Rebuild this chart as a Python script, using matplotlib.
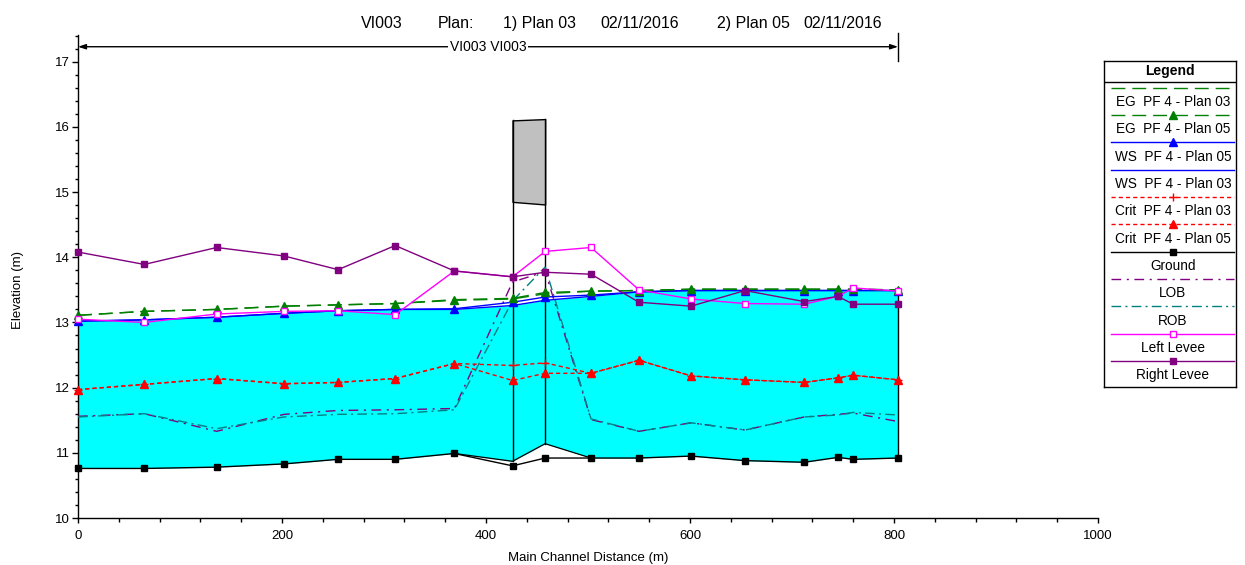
import numpy as np
import matplotlib
matplotlib.use("Agg")
import matplotlib.pyplot as plt
from matplotlib.ticker import MultipleLocator

plt.rcParams['font.family'] = ['Liberation Sans', 'DejaVu Sans']

# ---- profile data (main channel distance in m, elevations in m) ----
stations = [0, 65, 136, 202, 255, 311, 369, 426, 458, 503, 550, 601, 654, 712, 745, 760, 804]

ground = [10.76, 10.76, 10.78, 10.83, 10.90, 10.90, 10.99, 10.80, 10.92,
          10.92, 10.92, 10.95, 10.88, 10.855, 10.93, 10.90, 10.92]

eg_plan03 = [13.11, 13.17, 13.20, 13.25, 13.27, 13.29, 13.34, 13.36, 13.44,
             13.48, 13.49, 13.51, 13.51, 13.51, 13.51, 13.51, 13.50]
eg_plan05 = [13.11, 13.17, 13.20, 13.25, 13.27, 13.29, 13.35, 13.37, 13.46,
             13.48, 13.49, 13.51, 13.51, 13.51, 13.51, 13.51, 13.50]

ws_plan05 = [13.02, 13.04, 13.08, 13.14, 13.18, 13.20, 13.21, 13.31, 13.39,
             13.42, 13.47, 13.49, 13.49, 13.49, 13.49, 13.49, 13.49]
ws_plan03 = [13.02, 13.04, 13.08, 13.14, 13.18, 13.20, 13.20, 13.26, 13.34,
             13.40, 13.47, 13.49, 13.49, 13.49, 13.49, 13.49, 13.49]

crit_plan03 = [11.97, 12.05, 12.14, 12.06, 12.08, 12.14, 12.37, 12.34, 12.38,
               12.22, 12.42, 12.18, 12.12, 12.08, 12.15, 12.19, 12.12]
crit_plan05 = [11.97, 12.05, 12.14, 12.06, 12.08, 12.14, 12.37, 12.11, 12.22,
               12.22, 12.42, 12.18, 12.12, 12.08, 12.15, 12.19, 12.12]

lob = [11.56, 11.60, 11.33, 11.59, 11.65, 11.66, 11.68, 13.62, 13.78,
       11.51, 11.33, 11.46, 11.35, 11.55, 11.59, 11.61, 11.48]
rob = [11.55, 11.60, 11.37, 11.55, 11.59, 11.60, 11.66, 13.33, 13.85,
       11.52, 11.33, 11.46, 11.35, 11.55, 11.58, 11.62, 11.58]

left_levee = [13.05, 13.00, 13.13, 13.17, 13.18, 13.12, 13.79, 13.70, 14.09,
              14.15, 13.50, 13.36, 13.29, 13.28, 13.40, 13.53, 13.48]
right_levee = [14.08, 13.89, 14.15, 14.02, 13.81, 14.18, 13.79, 13.70, 13.77,
               13.74, 13.31, 13.25, 13.49, 13.32, 13.40, 13.28, 13.28]

# bridge between the two internal sections
bridge_sta = [426, 458]
bridge_invert = [10.87, 11.14]
low_chord = [14.85, 14.81]
high_chord = [16.10, 16.12]

reach_name = "VI003 VI003"
reach_end = 804
title_parts = ["VI003", "Plan:", "1) Plan 03", "02/11/2016", "2) Plan 05", "02/11/2016"]

x_ticks = [0, 200, 400, 600, 800, 1000]
y_ticks = [10, 11, 12, 13, 14, 15, 16, 17]

# ---- figure ----
W, H = 1245, 565
fig = plt.figure(figsize=(W / 100, H / 100), dpi=100)
ax = fig.add_axes([78 / W, 1 - 518 / H, (1098 - 78) / W, (518 - 35) / H])
ax.set_xlim(0, 1000)
ax.set_ylim(10, 17.41)

# water surface fill (bottom follows bridge invert inside the bridge)
fill_bottom = np.array(ground, dtype=float)
for s, z in zip(bridge_sta, bridge_invert):
    fill_bottom[stations.index(s)] = z
ax.fill_between(stations, fill_bottom, ws_plan03, color='#00FFFF', lw=0, zorder=1)
# downstream boundary edge of the wetted area
ax.plot([stations[-1], stations[-1]], [ground[-1], ws_plan03[-1]], color='black', lw=1.0, zorder=2)

# bridge invert line
i0 = stations.index(bridge_sta[0]) - 1
i1 = stations.index(bridge_sta[-1]) + 1
ax.plot(stations[i0:i1 + 1], fill_bottom[i0:i1 + 1], color='black', lw=0.9, zorder=2)

# bridge deck and abutment lines
ax.fill_between(bridge_sta, low_chord, high_chord, facecolor='#C0C0C0',
                edgecolor='black', lw=1.0, zorder=2)
for s, zb, zt in zip(bridge_sta, bridge_invert, high_chord):
    ax.plot([s, s], [zb, zt], color='black', lw=1.0, zorder=2)

GREEN, BLUE, RED = '#008000', '#0000FF', '#FF0000'
PURPLE, TEAL, MAGENTA = '#800080', '#008080', '#FF00FF'

series = [
    dict(label="EG  PF 4 - Plan 03", y=eg_plan03, color=GREEN, dashes=(10, 5), marker=None),
    dict(label="EG  PF 4 - Plan 05", y=eg_plan05, color=GREEN, dashes=(10, 5), marker='^'),
    dict(label="WS  PF 4 - Plan 05", y=ws_plan05, color=BLUE, dashes=None, marker='^'),
    dict(label="WS  PF 4 - Plan 03", y=ws_plan03, color=BLUE, dashes=None, marker=None),
    dict(label="Crit  PF 4 - Plan 03", y=crit_plan03, color=RED, dashes=(3, 2.2), marker='+'),
    dict(label="Crit  PF 4 - Plan 05", y=crit_plan05, color=RED, dashes=(3, 2.2), marker='^'),
    dict(label="Ground", y=ground, color='black', dashes=None, marker='s'),
    dict(label="LOB", y=lob, color=PURPLE, dashes=(7, 4, 1.5, 4), marker=None),
    dict(label="ROB", y=rob, color=TEAL, dashes=(7, 3, 1.5, 3), marker=None),
    dict(label="Left Levee", y=left_levee, color=MAGENTA, dashes=None, marker='s', open=True),
    dict(label="Right Levee", y=right_levee, color=PURPLE, dashes=None, marker='s'),
]

draw_order = [6, 7, 8, 4, 5, 3, 2, 0, 1, 9, 10]


def style_kwargs(sp):
    kw = dict(color=sp['color'], lw=1.0)
    if sp['dashes'] is not None:
        kw['dashes'] = sp['dashes']
    if sp['marker'] is not None:
        m = sp['marker']
        kw['marker'] = m
        if m == '^':
            kw.update(ms=5.5, mec=sp['color'], mfc=sp['color'])
        elif m == '+':
            kw.update(ms=6, mec=sp['color'], mew=1.0)
        elif m == 's':
            if sp.get('open'):
                kw.update(ms=5, mec=sp['color'], mfc='white', mew=1.0)
            else:
                kw.update(ms=5, mec=sp['color'], mfc=sp['color'])
    return kw


for z, idx in enumerate(draw_order):
    sp = series[idx]
    ax.plot(stations, sp['y'], zorder=3 + z * 0.1, clip_on=False, **style_kwargs(sp))

# axes styling
for side in ('top', 'right'):
    ax.spines[side].set_visible(False)
for side in ('left', 'bottom'):
    ax.spines[side].set_linewidth(1.0)
ax.set_xticks(x_ticks)
ax.set_yticks(y_ticks)
ax.xaxis.set_minor_locator(MultipleLocator(40))
ax.yaxis.set_minor_locator(MultipleLocator(0.2))
ax.tick_params(axis='x', which='major', length=3.5, width=1, labelsize=9.5, pad=5)
ax.tick_params(axis='x', which='minor', length=3, width=1)
ax.tick_params(axis='y', which='major', length=4, width=1, labelsize=9.5, pad=2)
ax.tick_params(axis='y', which='minor', length=2.5, width=1)

fig.text(18 / W, 1 - 290 / H, "Elevation (m)", rotation=90, ha='center', va='center', fontsize=9.5)
fig.text(588 / W, 1 - 558 / H, "Main Channel Distance (m)", ha='center', va='center', fontsize=9.5)

# header line, all pieces on one baseline
title_x = [361, 438, 503, 600, 717, 803]
for txt, px in zip(title_parts, title_x):
    fig.text(px / W, 1 - 28 / H, txt, ha='left', va='baseline', fontsize=11.5)

# reach extent arrow
y_arrow = 17.23
ax.annotate('', xy=(0, y_arrow), xytext=(reach_end, y_arrow),
            arrowprops=dict(arrowstyle='<|-|>,head_length=0.45,head_width=0.15',
                            color='black', lw=1.0, shrinkA=0, shrinkB=0),
            annotation_clip=False, zorder=5)
ax.plot([reach_end, reach_end], [17.01, 17.44], color='black', lw=1.0, clip_on=False, zorder=5)
ax.text(reach_end / 2, y_arrow, reach_name, ha='center', va='center', fontsize=10,
        bbox=dict(fc='white', ec='none', pad=1.5), zorder=6)

# legend panel
lx0, lx1, ly0, ly1 = 1104, 1236, 61, 387
lax = fig.add_axes([lx0 / W, 1 - ly1 / H, (lx1 - lx0) / W, (ly1 - ly0) / H])
lax.set_xlim(lx0, lx1)
lax.set_ylim(ly1, ly0)
lax.set_xticks([])
lax.set_yticks([])
for sp_ in lax.spines.values():
    sp_.set_linewidth(1.0)
lax.text((lx0 + lx1) / 2, 71, "Legend", ha='center', va='center', fontsize=10, fontweight='bold')
lax.plot([lx0, lx1], [81.5, 81.5], color='black', lw=1.0)
row_h = 27.35
for i, sp in enumerate(series):
    yl = 87.5 + i * row_h
    kw = style_kwargs(sp)
    mk = {k: kw.pop(k) for k in list(kw) if k in ('marker', 'ms', 'mec', 'mfc', 'mew')}
    lax.plot([1111, 1234], [yl, yl], **kw)
    if mk:
        lax.plot([1173], [yl], linestyle='none', **mk)
    lax.text(1173, yl + 14.5, sp['label'], ha='center', va='center', fontsize=9.8)

fig.savefig("out.png", dpi=100)
